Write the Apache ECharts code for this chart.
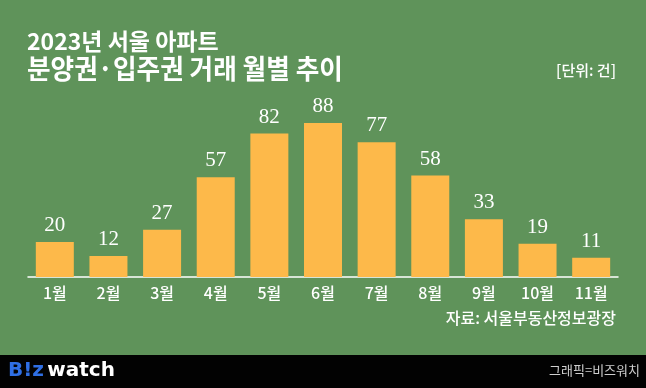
<!DOCTYPE html>
<html><head><meta charset="utf-8">
<script src="https://cdn.jsdelivr.net/npm/echarts@6/dist/echarts.min.js"></script>
<style>html,body{margin:0;padding:0;background:#5f935a;}#c{width:646px;height:388px;}</style>
</head><body><div id="c"></div>
<script>
var categories = ['1월','2월','3월','4월','5월','6월','7월','8월','9월','10월','11월'];
var values = [20, 12, 27, 57, 82, 88, 77, 58, 33, 19, 11];
var titleLine1 = '2023년 서울 아파트';
var titleLine2 = '분양권·입주권 거래 월별 추이';
var unitText = '[단위: 건]';
var sourceText = '자료: 서울부동산정보광장';
var creditText = '그래픽=비즈워치';

var KR = '"Noto Sans CJK KR", "Noto Sans", sans-serif';
var chart = echarts.init(document.getElementById('c'), null, {renderer:'canvas'});
chart.setOption({
  backgroundColor: '#5f935a',
  animation: false,
  grid: {left: 28, right: 28, top: 102, bottom: 111, containLabel: false},
  xAxis: {
    type: 'category', data: categories,
    axisLine: {lineStyle: {color: '#ffffff', width: 1.5}},
    axisTick: {show: false},
    axisLabel: {color: '#ffffff', fontFamily: KR, fontSize: 16, fontWeight: 500, margin: 8}
  },
  yAxis: {type: 'value', min: 0, max: 100, show: false, splitLine: {show: false}},
  series: [{
    type: 'bar', data: values, barWidth: 38,
    itemStyle: {color: '#fdb94a'},
    label: {show: true, position: 'top', distance: 6, color: '#ffffff',
      fontFamily: '"Liberation Serif", "DejaVu Serif", serif', fontSize: 21}
  }],
  graphic: [
    {type: 'text', x: 27, y: 41, style: {text: titleLine1, fill: '#fff', font: 'bold 23px ' + KR, verticalAlign: 'middle'}},
    {type: 'text', x: 27, y: 69, scaleX: 0.95, style: {text: titleLine2, fill: '#fff', font: 'bold 27px ' + KR, verticalAlign: 'middle'}},
    {type: 'text', right: 30, top: 63, style: {text: unitText, fill: '#fff', font: '500 15px ' + KR}},
    {type: 'text', right: 30, top: 310, style: {text: sourceText, fill: '#fff', font: '500 16px ' + KR}},
    {type: 'rect', left: 0, top: 355, shape: {width: 646, height: 33}, style: {fill: '#020202'}},
    {type: 'text', left: 8, top: 361, style: {
      text: '{b|B!z} {w|watch}',
      rich: {b: {fill: '#2f6fe4', font: 'bold 20px "DejaVu Sans", sans-serif'},
             w: {fill: '#ffffff', font: 'bold 20px "DejaVu Sans", sans-serif'}}}},
    {type: 'text', right: 6, top: 364, style: {text: creditText, fill: '#cfcfcf', font: '13px ' + KR}}
  ]
});
</script></body></html>
